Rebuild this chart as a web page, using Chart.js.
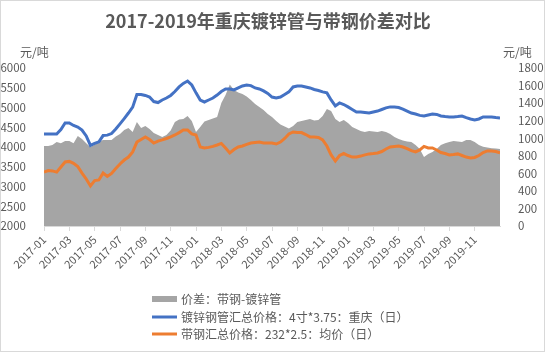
<!DOCTYPE html>
<html><head><meta charset="utf-8">
<script src="https://cdn.jsdelivr.net/npm/chart.js@4/dist/chart.umd.min.js"></script>
<style>html,body{margin:0;padding:0;background:#fff;}canvas{display:block;}</style>
</head><body><canvas id="c" width="545" height="352"></canvas>
<script>
// ---- data ----
const chartTitle = '2017-2019年重庆镀锌管与带钢价差对比';
const unitLabel = '元/吨';
const tickLabels = ['2017-01','2017-03','2017-05','2017-07','2017-09','2017-11','2018-01','2018-03','2018-05','2018-07','2018-09','2018-11','2019-01','2019-03','2019-05','2019-07','2019-09','2019-11'];
const seriesNames = ['价差：带钢-镀锌管','镀锌钢管汇总价格：4寸*3.75：重庆（日）','带钢汇总价格：232*2.5：均价（日）'];
// sample dates: 1st, 11th, 21st of each month, 2017-01 .. 2019-12, plus 2020-01-01
const years = [2017, 2018, 2019];
const sampleDays = ['01', '11', '21'];
const categories = [];
years.forEach(y => { for (let m = 1; m <= 12; m++) sampleDays.forEach(d => categories.push(y + '-' + String(m).padStart(2, '0') + '-' + d)); });
categories.push('2020-01-01');

const spread = [910,910,922,956,944,967,967,944,1024,990,
944,899,927,962,979,979,979,1019,1047,1093,
1116,1070,1184,1116,1139,1104,1059,1036,1013,1036,
1087,1184,1213,1219,1253,1196,1070,1127,1190,1207,
1224,1241,1401,1493,1612,1550,1521,1504,1475,1435,
1390,1356,1321,1276,1241,1196,1156,1133,1110,1139,
1184,1196,1207,1219,1201,1207,1253,1333,1310,1219,
1184,1207,1173,1127,1104,1081,1070,1081,1076,1070,
1081,1070,1047,1013,990,973,962,956,922,876,
785,819,842,876,922,944,956,967,962,956,
979,979,956,922,904,893,887,882,876];

const pipePrice = [4330,4330,4330,4330,4440,4610,4610,4545,4505,4430,
4280,4040,4090,4130,4290,4300,4340,4455,4585,4720,
4860,5010,5330,5330,5305,5265,5150,5125,5190,5240,
5305,5405,5520,5610,5670,5570,5370,5190,5140,5190,
5240,5315,5405,5470,5470,5445,5495,5545,5570,5555,
5495,5470,5420,5355,5265,5240,5265,5330,5395,5520,
5545,5545,5520,5495,5455,5430,5395,5370,5190,5040,
5115,5075,5015,4950,4885,4885,4875,4860,4885,4910,
4950,4990,5015,5015,5000,4960,4910,4860,4835,4800,
4785,4810,4835,4825,4785,4770,4760,4760,4770,4785,
4745,4710,4685,4710,4760,4760,4760,4745,4735];

const stripPrice = [3365,3405,3395,3365,3495,3620,3635,3585,3505,3340,
3190,3015,3150,3165,3340,3255,3330,3455,3570,3670,
3745,3875,4125,4190,4255,4190,4100,4150,4180,4215,
4255,4305,4365,4430,4430,4330,4305,4000,3975,3990,
4015,4050,4090,3975,3850,3935,4000,4025,4065,4100,
4115,4125,4100,4100,4100,4075,4125,4215,4330,4380,
4365,4365,4315,4255,4255,4240,4180,4025,3800,3645,
3785,3835,3785,3745,3745,3770,3800,3825,3835,3850,
3885,3950,4000,4015,4025,4000,3960,3910,3875,3925,
4015,3975,3975,3925,3860,3835,3800,3810,3825,3785,
3745,3720,3735,3785,3860,3900,3900,3885,3850];

// months since 2017-01 for each sample date
function monthPos(dateStr) {
  const [y, m, d] = dateStr.split('-').map(Number);
  return (y - 2017) * 12 + (m - 1) + (d - 1) / 30;
}
const toPoints = arr => arr.map((v, i) => ({ x: monthPos(categories[i]), y: v }));

const TXT = '#595959';
const CJK = '"Noto Sans CJK SC", "Liberation Sans", sans-serif';

const decor = {
  id: 'decor',
  afterDraw(chart) {
    const ctx = chart.ctx;
    ctx.save();
    ctx.strokeStyle = '#d9d9d9'; ctx.lineWidth = 1;
    ctx.strokeRect(0.5, 0.5, 544, 351);
    ctx.fillStyle = TXT; ctx.textAlign = 'center'; ctx.textBaseline = 'middle';
    ctx.font = 'bold 18px ' + CJK;
    ctx.fillText(chartTitle, 268, 21);
    ctx.font = '12px ' + CJK;
    ctx.textAlign = 'left';
    ctx.fillText(unitLabel, 20, 52);
    ctx.fillText(unitLabel, 503, 52);
    const ds = chart.data.datasets;
    const rows = [299, 317, 334];
    ds.forEach((d, k) => {
      const y = rows[k];
      if (k === 0) { ctx.fillStyle = d.backgroundColor; ctx.fillRect(152, y - 3, 25, 6); }
      else { ctx.strokeStyle = d.borderColor; ctx.lineWidth = 3; ctx.beginPath(); ctx.moveTo(152, y); ctx.lineTo(177, y); ctx.stroke(); }
      ctx.fillStyle = TXT; ctx.font = '12px ' + CJK; ctx.textAlign = 'left'; ctx.textBaseline = 'middle';
      ctx.fillText(d.label, 181, y);
    });
    ctx.restore();
  }
};

new Chart(document.getElementById('c'), {
  type: 'line',
  data: {
    datasets: [
      { label: seriesNames[0], data: toPoints(spread), yAxisID: 'y1', backgroundColor: '#a5a5a5', borderWidth: 0, borderColor: 'rgba(0,0,0,0)', fill: 'origin', pointRadius: 0, order: 3 },
      { label: seriesNames[1], data: toPoints(pipePrice), yAxisID: 'y', borderColor: '#4472c4', borderWidth: 3, fill: false, pointRadius: 0, order: 1 },
      { label: seriesNames[2], data: toPoints(stripPrice), yAxisID: 'y', borderColor: '#ed7d31', borderWidth: 3, fill: false, pointRadius: 0, order: 2 }
    ]
  },
  options: {
    responsive: false, animation: false, devicePixelRatio: 1,
    layout: { padding: { top: 68, bottom: 0, left: 0, right: 0 } },
    plugins: { legend: { display: false }, tooltip: { enabled: false }, title: { display: false } },
    scales: {
      x: {
        type: 'linear', min: 0, max: 36,
        afterFit: s => { s.height = 126; },
        afterBuildTicks: s => { s.ticks = tickLabels.map((t, i) => ({ value: i * 2 })); },
        ticks: { callback: (v) => tickLabels[Math.round(v / 2)] || '', minRotation: 45, maxRotation: 45, autoSkip: false, color: TXT, font: { family: CJK, size: 11 }, padding: 2 },
        grid: { display: true, drawOnChartArea: false, drawTicks: true, tickLength: 5, color: '#d9d9d9' },
        border: { display: true, color: '#d9d9d9' }
      },
      y: {
        position: 'left', min: 2000, max: 6000,
        afterFit: s => { s.width = 44; },
        ticks: { stepSize: 500, callback: v => String(v), color: TXT, font: { family: CJK, size: 11.5 }, padding: 10 },
        grid: { display: false }, border: { display: false }
      },
      y1: {
        position: 'right', min: 0, max: 1800,
        afterFit: s => { s.width = 45; },
        ticks: { stepSize: 200, callback: v => String(v), color: TXT, font: { family: CJK, size: 11.5 }, padding: 10 },
        grid: { display: false }, border: { display: false }
      }
    }
  },
  plugins: [decor]
});
</script>
</body></html>
